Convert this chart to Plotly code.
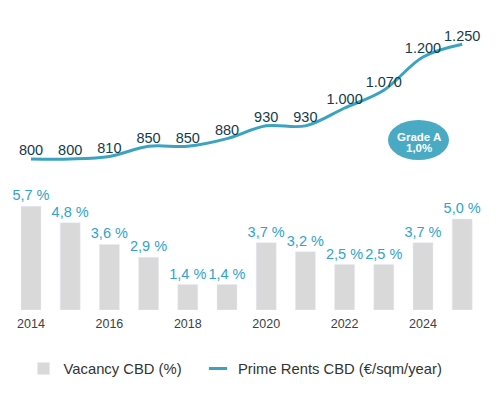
import plotly.graph_objects as go

years = list(range(2014, 2026))
vacancy = [5.7, 4.8, 3.6, 2.9, 1.4, 1.4, 3.7, 3.2, 2.5, 2.5, 3.7, 5.0]
rents = [800, 800, 810, 850, 850, 880, 930, 930, 1000, 1070, 1200, 1250]
tick_years = [2014, 2016, 2018, 2020, 2022, 2024]

FONT = "Liberation Sans, Arial, sans-serif"
TEAL = "#3aa3bf"
CYAN = "#2ea3cc"

W, H = 492, 388          # page body adds 8px margin
PH = 302                 # plot-area height (px)
PXY = 39.2               # px per year
PXP = 18.2               # px per vacancy %
PXR = 0.255              # px per rent unit

fig = go.Figure()
fig.add_trace(go.Bar(
    x=years, y=vacancy, name="Vacancy CBD (%)",
    marker=dict(color="#d9d9d9"), width=0.51,
    texttemplate="%{y:.1f} %", textposition="outside", constraintext="none",
    textfont=dict(color=CYAN, size=14.5, family=FONT),
    cliponaxis=False, yaxis="y", legend="legend",
))
fig.add_trace(go.Scatter(
    x=years, y=rents, mode="lines+text", showlegend=False,
    line=dict(color=TEAL, width=3, shape="spline", smoothing=1.0),
    texttemplate="%{y:,}", textposition="top center",
    textfont=dict(color="#123c4c", size=14.5, family=FONT),
    cliponaxis=False, yaxis="y2",
))
fig.add_trace(go.Scatter(
    x=[None], y=[None], mode="markers", name="Prime Rents CBD (€/sqm/year)",
    marker=dict(symbol="line-ew", size=13, line=dict(color=TEAL, width=3), color=TEAL),
    yaxis="y2", legend="legend2",
))

fig.add_shape(type="circle", xref="paper", yref="paper",
              x0=380/W, x1=441/W, y0=(PH-152)/PH, y1=(PH-112)/PH,
              fillcolor="#4aaac4", line=dict(color="#4aaac4", width=0), layer="above")
fig.add_annotation(xref="paper", yref="paper", x=411/W, y=(PH-128.5)/PH,
                   xanchor="center", yanchor="middle",
                   text="<b>Grade A</b>", showarrow=False,
                   font=dict(color="white", size=11.5, family=FONT))
fig.add_annotation(xref="paper", yref="paper", x=411/W, y=(PH-140)/PH,
                   xanchor="center", yanchor="middle",
                   text="<b>1,0%</b>", showarrow=False,
                   font=dict(color="white", size=11.5, family=FONT))

legend_font = dict(size=14.8, color="#333333", family=FONT)
x0 = 2014 - 23 / PXY
fig.update_layout(
    width=W, height=H, autosize=False,
    margin=dict(l=0, r=0, t=0, b=H - PH),
    paper_bgcolor="white", plot_bgcolor="white",
    separators=",.",
    font=dict(family=FONT),
    showlegend=True,
    legend=dict(orientation="h", x=15.5 / W, xanchor="left", y=(PH - 361) / PH,
                yanchor="middle", font=legend_font, bgcolor="rgba(0,0,0,0)"),
    legend2=dict(orientation="h", x=190 / W, xanchor="left", y=(PH - 361) / PH,
                 yanchor="middle", font=legend_font, bgcolor="rgba(0,0,0,0)"),
    xaxis=dict(range=[x0, x0 + W / PXY], tickvals=tick_years,
               showgrid=False, zeroline=False, showline=False,
               ticks="outside", ticklen=2, tickcolor="rgba(0,0,0,0)",
               tickfont=dict(size=12.5, color="#404040", family=FONT)),
    yaxis=dict(range=[0, PH / PXP], visible=False, showgrid=False, zeroline=False),
    yaxis2=dict(range=[800 - (PH - 151) / PXR, 800 + 151 / PXR], overlaying="y",
                visible=False, showgrid=False, zeroline=False),
)

fig.write_html("out.html")
